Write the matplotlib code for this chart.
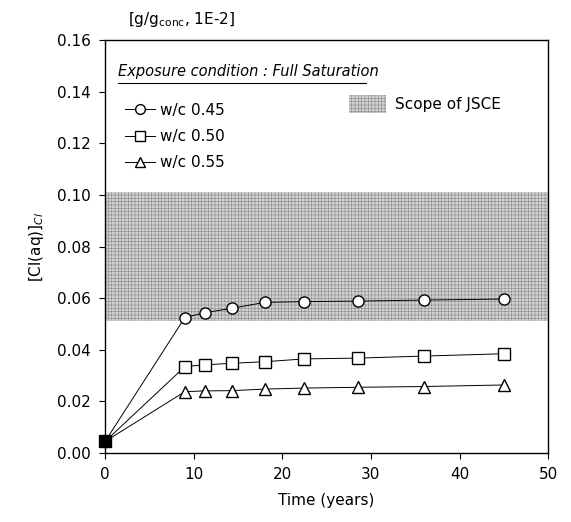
import matplotlib
matplotlib.use("Agg")
import matplotlib.pyplot as plt
from matplotlib.patches import Patch
from matplotlib.lines import Line2D

plt.rcParams['font.family'] = ['DejaVu Sans']
plt.rcParams['hatch.linewidth'] = 0.4

# data
years = [0, 9, 11.25, 14.3, 18, 22.5, 28.5, 36, 45]
wc045 = [0.0045, 0.0525, 0.0544, 0.0561, 0.0584, 0.0587, 0.0589, 0.0593, 0.0597]
wc050 = [0.0045, 0.0335, 0.0342, 0.0348, 0.0354, 0.0365, 0.0368, 0.0376, 0.0385]
wc055 = [0.0045, 0.0238, 0.0241, 0.0242, 0.0248, 0.0252, 0.0255, 0.0258, 0.0264]
labels = ['w/c 0.45', 'w/c 0.50', 'w/c 0.55']
markers = ['o', 's', '^']
jsce_low, jsce_high = 0.051, 0.101

fig = plt.figure(figsize=(5.71, 5.22), dpi=100)
ax = fig.add_axes([0.184, 0.132, 0.776, 0.791])

ax.axhspan(jsce_low, jsce_high, facecolor='#d0d0d0', edgecolor='#8a8a8a',
           hatch='+++++', linewidth=0, zorder=0)

handles = []
for vals, lab, m in zip([wc045, wc050, wc055], labels, markers):
    ax.plot(years, vals, color='black', lw=0.7, zorder=2)
    ax.plot(years[1:], vals[1:], ls='none', marker=m, ms=8, mfc='white',
            mec='black', mew=1.0, zorder=3)
    handles.append(Line2D([], [], color='black', lw=0.7, marker=m, ms=7,
                          mfc='white', mec='black', mew=1.0))
# start point, markers overlap into a black blob
ax.plot(years[0], wc045[0], ls='none', marker='s', ms=8, mfc='black',
        mec='black', zorder=4, clip_on=False)

ax.set_xlim(0, 50)
ax.set_ylim(0, 0.16)
ax.set_xticks([0, 10, 20, 30, 40, 50])
ax.set_yticks([0, 0.02, 0.04, 0.06, 0.08, 0.10, 0.12, 0.14, 0.16])
ax.yaxis.set_major_formatter(matplotlib.ticker.FormatStrFormatter('%.2f'))
ax.tick_params(direction='out', length=4, labelsize=11, pad=6)
for s in ax.spines.values():
    s.set_linewidth(1.0)

ax.set_xlabel('Time (years)', fontsize=11, labelpad=8)
ax.set_ylabel(r'[Cl(aq)]$_{Cl}$', fontsize=11, labelpad=8)
fig.text(0.225, 0.963, r'[g/g$_{\mathregular{conc}}$, 1E-2]', fontsize=11,
         ha='left', va='center')

t = ax.text(0.03, 0.925, 'Exposure condition : Full Saturation', style='italic',
            fontsize=10.5, transform=ax.transAxes, ha='left', va='center')
ax.plot([0.03, 0.59], [0.897, 0.897], color='black', lw=0.8,
        transform=ax.transAxes)

leg1 = ax.legend(handles, labels, loc='upper left', bbox_to_anchor=(0.02, 0.875),
                 frameon=False, fontsize=11, handlelength=2.0, handletextpad=0.3,
                 labelspacing=0.75, borderaxespad=0.3)
ax.add_artist(leg1)
jsce = Patch(facecolor='#d0d0d0', edgecolor='#8a8a8a', hatch='+++++', lw=0)
ax.legend([jsce], ['Scope of JSCE'], loc='upper left', bbox_to_anchor=(0.52, 0.9),
          frameon=False, fontsize=11, handlelength=2.4, handleheight=1.4,
          handletextpad=0.6)

fig.savefig('out.png', dpi=100)
